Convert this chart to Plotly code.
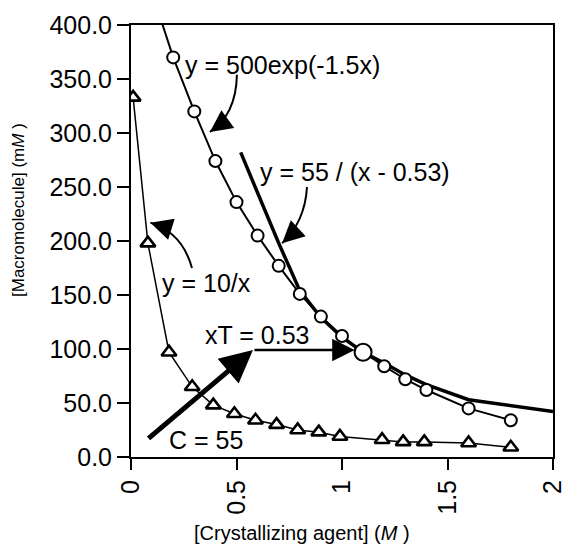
import plotly.graph_objects as go

# ---- data ----
exp_x = [0.1, 0.2, 0.3, 0.4, 0.5, 0.6, 0.7, 0.8, 0.9, 1.0, 1.1, 1.2, 1.3, 1.4, 1.6, 1.8]
exp_y = [430, 370, 320, 274, 236, 205, 177, 151, 130, 112, 97, 84, 72, 62, 45, 34]
exp_size = [12, 12, 12, 12, 12, 12, 12, 12, 12, 12, 17, 12, 12, 12, 12, 12]

inv_x = [0.01, 0.08, 0.18, 0.29, 0.39, 0.49, 0.59, 0.69, 0.79, 0.89, 0.99, 1.19, 1.29, 1.39, 1.6, 1.8]
inv_y = [333, 198, 97, 65, 48, 40, 34, 30, 25, 23, 19, 16, 14, 14, 13, 9]

hyp_x = [0.52, 0.6, 0.7, 0.8, 0.9, 1.0, 1.1, 1.2, 1.3, 1.4, 1.6, 2.0]
hyp_y = [282, 244, 198, 154, 129, 111, 97, 87, 76, 67, 53, 42]

x_ticks = [0, 0.5, 1, 1.5, 2]
x_tick_labels = ["0", "0.5", "1", "1.5", "2"]
y_ticks = [0, 50, 100, 150, 200, 250, 300, 350, 400]

FONT = "Liberation Sans, Arial, Helvetica, sans-serif"

fig = go.Figure()

fig.add_trace(go.Scatter(
    x=hyp_x, y=hyp_y, mode="lines",
    line=dict(color="black", width=3.5), showlegend=False, hoverinfo="skip"))

fig.add_trace(go.Scatter(
    x=inv_x, y=inv_y, mode="lines+markers",
    line=dict(color="black", width=1.5),
    marker=dict(symbol="triangle-up", size=13, color="#ffffff",
                line=dict(color="black", width=2.6)),
    showlegend=False))

fig.add_trace(go.Scatter(
    x=exp_x, y=exp_y, mode="lines+markers",
    line=dict(color="black", width=2),
    marker=dict(symbol="circle", size=exp_size, color="#ffffff", opacity=1,
                line=dict(color="black", width=2)),
    showlegend=False))

# curved arrow bodies (data coordinates)
curves = [
    ((0.502, 354), (0.498, 317), (0.374, 301)),
    ((0.834, 250), (0.825, 218), (0.716, 198)),
    ((0.289, 175), (0.242, 208), (0.092, 217)),
]
shapes = []
for (s, c, e) in curves:
    shapes.append(dict(type="path", xref="x", yref="y",
                       path=f"M {s[0]},{s[1]} Q {c[0]},{c[1]} {e[0]},{e[1]}",
                       line=dict(color="black", width=2)))

annotations = []
heads = [((0.374, 301), 14, -10), ((0.716, 198), 13, -12), ((0.092, 217), 16, 5)]
for (pt, ax, ay) in heads:
    annotations.append(dict(x=pt[0], y=pt[1], xref="x", yref="y", ax=ax, ay=ay,
                            text="", showarrow=True, arrowhead=2, arrowsize=2.2,
                            arrowwidth=2, arrowcolor="black", standoff=0))

# straight arrows
annotations.append(dict(x=1.06, y=99, ax=0.578, ay=99, xref="x", yref="y",
                        axref="x", ayref="y", text="", showarrow=True,
                        arrowhead=2, arrowsize=1.8, arrowwidth=2.5,
                        arrowcolor="black", standoff=0))
annotations.append(dict(x=0.578, y=99, ax=0.076, ay=16, xref="x", yref="y",
                        axref="x", ayref="y", text="", showarrow=True,
                        arrowhead=2, arrowsize=1.3, arrowwidth=5,
                        arrowcolor="black", standoff=0))

labels = [
    ("y = 500exp(-1.5x)", 0.246, 363),
    ("y = 55 / (x - 0.53)", 0.602, 264),
    ("y = 10/x", 0.137, 161),
    ("xT = 0.53", 0.341, 113),
    ("C = 55", 0.171, 16),
]
for (t, x, y) in labels:
    annotations.append(dict(x=x, y=y, xref="x", yref="y", text=t, showarrow=False,
                            xanchor="left", yanchor="middle",
                            font=dict(family=FONT, size=25, color="black")))

# axis titles (placed in paper coordinates)
annotations.append(dict(x=(19 - 131) / 422, y=(457 - 210) / 432, xref="paper", yref="paper",
                        text="[Macromolecule] (m<i>M</i> )", textangle=-90, showarrow=False,
                        xanchor="center", yanchor="middle",
                        font=dict(family=FONT, size=17, color="black")))
annotations.append(dict(x=(302 - 131) / 422, y=(457 - 533) / 432, xref="paper", yref="paper",
                        text="[Crystallizing agent] (<i>M</i> )", showarrow=False,
                        xanchor="center", yanchor="middle",
                        font=dict(family=FONT, size=20, color="black")))

fig.update_layout(
    width=562, height=544,
    margin=dict(l=131, r=9, t=25, b=87),
    paper_bgcolor="white", plot_bgcolor="white",
    shapes=shapes, annotations=annotations,
    font=dict(family=FONT, color="black"),
)
fig.update_xaxes(range=[0, 2], tickvals=x_ticks, ticktext=x_tick_labels,
                 tickangle=-90, ticks="outside", ticklen=11, tickwidth=2,
                 tickcolor="black", showline=True, linecolor="black", linewidth=2,
                 mirror=True, showgrid=False, zeroline=False,
                 ticklabeloverflow="allow", automargin=False,
                 tickfont=dict(family=FONT, size=25, color="black"))
fig.update_yaxes(range=[0, 400], tickvals=y_ticks, tickformat=".1f",
                 ticks="outside", ticklen=12, tickwidth=2, tickcolor="black",
                 showline=True, linecolor="black", linewidth=2, mirror=True,
                 showgrid=False, zeroline=False, automargin=False,
                 tickfont=dict(family=FONT, size=25, color="black"))

fig.write_html("out.html", config={"displayModeBar": False},
               post_script="document.body.style.margin='0px';document.body.style.overflow='hidden';")
